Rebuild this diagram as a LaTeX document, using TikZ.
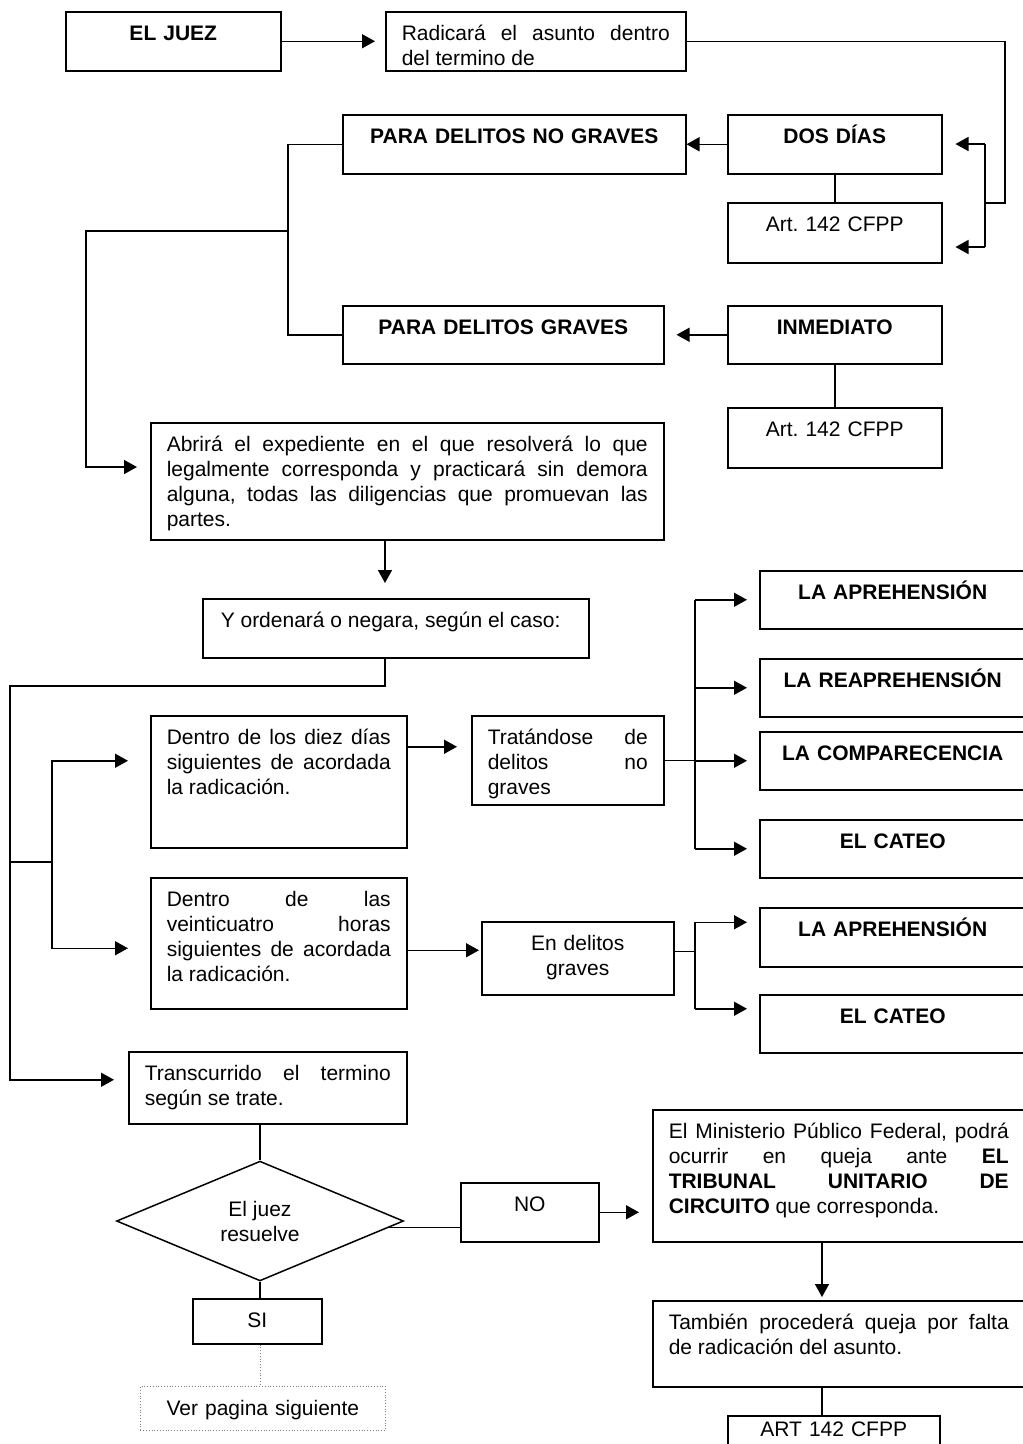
\documentclass[tikz,border=0pt]{standalone}
\usepackage{fontspec}
\setmainfont{Liberation Sans}
\frenchspacing
\usetikzlibrary{arrows.meta,positioning,shapes.geometric}

\begin{document}
\begin{tikzpicture}[x=1pt, y=-1pt, line width=1.5pt,
  every node/.style={font=\fontsize{21pt}{25pt}\selectfont},
  caja/.style={draw, anchor=north west, inner xsep=16pt, inner ysep=0pt, text height=29pt},
  titulo/.style={caja, align=center, font=\fontsize{21pt}{25pt}\selectfont\bfseries},
  centro/.style={caja, align=center},
  texto/.style={caja, align=justify},
  flecha/.style={-{Triangle[length=13pt,width=14pt]}, shorten >=12pt}]
  \path[use as bounding box] (0,0) rectangle (1023,1444);
  \clip (0,0) rectangle (1023,1444);
  \fill[white] (0,0) rectangle (1023,1444);

  \node[titulo, text width=183pt, text depth=30pt] (juez) at (65,11) {EL JUEZ};
  \node[texto, text width=268pt, text depth=30pt] (radica) at (385,11) {Radicará el asunto dentro\linebreak del termino de};
  \node[titulo, text width=311pt, text depth=30pt] (nograves) at (342,114) {PARA DELITOS NO GRAVES};
  \node[titulo, text width=182pt, text depth=30pt] (dosdias) at (727,114) {DOS DÍAS};
  \node[centro, text width=182pt, text depth=31pt] (artA) at (727,202) {Art. 142 CFPP};
  \node[titulo, text width=289pt, text depth=29pt] (graves) at (342,305) {PARA DELITOS GRAVES};
  \node[titulo, text width=182pt, text depth=29pt] (inmed) at (727,305) {INMEDIATO};
  \node[centro, text width=182pt, text depth=31pt] (artB) at (727,407) {Art. 142 CFPP};
  \node[texto, text width=481pt, text depth=88pt] (abrira) at (150,422) {Abrirá el expediente en el que resolverá lo que\linebreak legalmente corresponda y practicará sin demora\linebreak alguna, todas las diligencias que promuevan las\linebreak partes.};
  \node[texto, inner xsep=18pt, text width=350pt, text depth=30pt] (ordena) at (202,598) {Y ordenará o negara, según el caso:};
  \node[texto, text width=224pt, text depth=103pt] (diez) at (150,715) {Dentro de los diez días\linebreak siguientes de acordada\linebreak la radicación.};
  \node[texto, text width=160pt, text depth=60pt] (trata) at (471,715) {Tratándose de\linebreak delitos no\linebreak graves};
  \node[titulo, text width=234pt, text depth=29pt] (aprA) at (759,570) {LA APREHENSIÓN};
  \node[titulo, text width=234pt, text depth=29pt] (reapr) at (759,658) {LA REAPREHENSIÓN};
  \node[titulo, text width=234pt, text depth=29pt] (compa) at (759,731) {LA COMPARECENCIA};
  \node[titulo, text width=234pt, text depth=29pt] (cateoA) at (759,819) {EL CATEO};
  \node[texto, text width=224pt, text depth=102pt] (veinte) at (150,877) {Dentro de las\linebreak veinticuatro horas\linebreak siguientes de acordada\linebreak la radicación.};
  \node[centro, text width=160pt, text depth=44pt] (endel) at (481,921) {En delitos\\graves};
  \node[titulo, text width=234pt, text depth=30pt] (aprB) at (759,907) {LA APREHENSIÓN};
  \node[titulo, text width=234pt, text depth=29pt] (cateoB) at (759,994) {EL CATEO};
  \node[texto, text width=246pt, text depth=43pt] (transc) at (128,1051) {Transcurrido el termino\linebreak según se trate.};
  \node[diamond, draw, minimum width=287pt, minimum height=102pt, inner sep=0pt, align=center] (juezres) at (260,1221) {El juez\\resuelve};
  \node[centro, text width=106pt, text depth=30pt] (no) at (460,1182) {NO};
  \node[texto, text width=340pt, text depth=103pt] (minis) at (652,1109) {El Ministerio Público Federal, podrá\linebreak ocurrir en queja ante \textbf{EL}\linebreak \textbf{TRIBUNAL UNITARIO DE}\linebreak \textbf{CIRCUITO} que corresponda.};
  \node[texto, text width=340pt, text depth=57pt] (tamb) at (652,1300) {También procederá queja por falta\linebreak de radicación del asunto.};
  \node[centro, text width=180pt, text height=21pt, text depth=39pt] (artC) at (727,1415) {ART 142 CFPP};
  \node[centro, text width=97pt, text depth=16pt] (si) at (192,1298) {SI};
  \node[centro, draw=gray, dotted, line width=0.8pt, text width=213pt, text depth=15pt] (ver) at (140,1386) {Ver pagina siguiente};

  \coordinate (bA) at (1005,203);
  \coordinate (bB) at (985,144);
  \coordinate (bC) at (985,247);
  \coordinate (nodo) at (288,231);
  \coordinate (izq) at (86,467);
  \coordinate (colA) at (385,0);
  \coordinate (rail) at (10,686);
  \coordinate (fork) at (52,862);
  \coordinate (busA) at (695,0);
  \coordinate (colR) at (822,0);

  \draw[flecha, shorten >=10pt] (juez.east) -- (radica.west);
  \draw (radica.east) -| (bA) -- (bA -| bB);
  \draw (bB) -- (bC);
  \draw[flecha, shorten >=13pt] (bB) -- (bB -| dosdias.east);
  \draw[flecha, shorten >=13pt] (bC) -- (bC -| artA.east);
  \draw (dosdias) -- (artA);
  \draw[flecha, shorten >=0pt] (dosdias) -- (nograves);
  \draw (nograves.west) -| (nodo) |- (graves.west);
  \draw[flecha, shorten >=13pt] (nodo) -| (izq) -- (izq -| abrira.west);
  \draw[flecha] (inmed) -- (graves);
  \draw (inmed) -- (artB);

  \draw[flecha, shorten >=15pt] (abrira.south -| colA) -- (ordena.north -| colA);
  \draw[flecha, shorten >=14pt] (ordena.south -| colA) |- (rail) |- ([yshift=8pt]transc.west);
  \draw (fork -| rail) -- (fork);
  \draw[flecha, shorten >=22pt] (fork) |- ([yshift=21pt]diez.west);
  \draw[flecha, shorten >=22pt] (fork) |- ([yshift=-5pt]veinte.west);
  \draw[flecha, shorten >=14pt] ([yshift=35pt]diez.east) -- ([yshift=35pt]diez.east -| trata.west);

  \draw (trata.east) -- (trata.east -| busA);
  \draw (busA |- aprA.west) -- (busA |- cateoA.west);
  \foreach \n in {aprA,reapr,compa,cateoA}
    \draw[flecha] (busA |- \n.west) -- (\n.west);

  \draw[flecha, shorten >=2pt] ([yshift=-7pt]veinte.east) -- ([yshift=-7pt]veinte.east -| endel.west);
  \draw ([yshift=7pt]endel.east) -- ([yshift=7pt]endel.east -| busA);
  \draw ([yshift=15pt]aprB.west -| busA) -- ([yshift=15pt]cateoB.west -| busA);
  \foreach \n in {aprB,cateoB}
    \draw[flecha] ([yshift=15pt]\n.west -| busA) -- ([yshift=15pt]\n.west);

  \draw (transc.south -| juezres) -- (juezres.north);
  \draw (juezres.-3) -- (juezres.-3 -| no.west);
  \draw[flecha, shorten >=13pt] (no.east) -- (no.east -| minis.west);
  \draw[flecha, shorten >=3pt] (minis.south -| colR) -- (tamb.north -| colR);
  \draw (tamb.south -| colR) -- (artC.north -| colR);
  \draw (juezres.south) -- (juezres.south |- si.north);
  \draw[gray, dotted, line width=0.8pt] (si.south -| juezres) -- (ver.north -| juezres);
\end{tikzpicture}
\end{document}
